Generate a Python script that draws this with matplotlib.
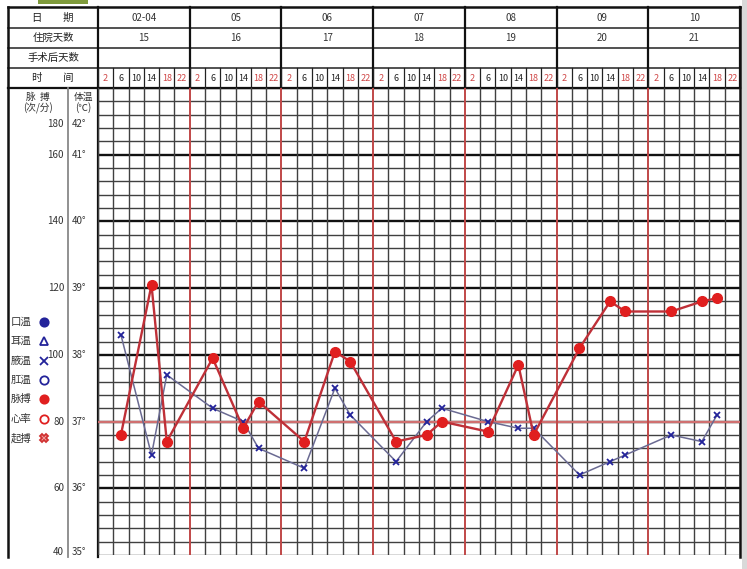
import matplotlib
matplotlib.use("Agg")
import matplotlib.pyplot as plt
from matplotlib.patches import Rectangle

plt.rcParams["font.family"] = ["Noto Sans CJK SC", "DejaVu Sans"]

# ---- data -------------------------------------------------------------
dates = ["02-04", "05", "06", "07", "08", "09", "10"]
hosp_days = [15, 16, 17, 18, 19, 20, 21]
times = [2, 6, 10, 14, 18, 22]

obs_day = [0, 0, 0, 1, 1, 1, 2, 2, 2, 3, 3, 3, 4, 4, 4, 5, 5, 5, 6, 6, 6]
obs_hour = [6, 14, 18] * 7
temp_axillary = [38.3, 36.5, 37.7, 37.2, 37.0, 36.6, 36.3, 37.5, 37.1,
                 36.4, 37.0, 37.2, 37.0, 36.9, 36.9, 36.2, 36.4, 36.5,
                 36.8, 36.7, 37.1]
pulse = [76, 121, 74, 99, 78, 86, 74, 101, 98, 74, 76, 80,
         77, 97, 76, 102, 116, 113, 113, 116, 117]

temp_ticks = [42, 41, 40, 39, 38, 37, 36, 35]
pulse_ticks = [180, 160, 140, 120, 100, 80, 60, 40]

legend_names = ["口温", "耳温", "腋温", "肛温", "脉搏", "心率", "起搏"]

# ---- layout (pixels) --------------------------------------------------
W, H = 747, 569
X0, X1 = 98, 740          # chart left / right
Y_TOP, Y_BOT = 88, 555    # 42 C / 35 C
LEFT = 8
header_rows = [7, 28, 48, 68, 88]
BLUE = "#23239a"
RED = "#e01f1f"
RED_LINE = "#bf3038"
GRID = "#404040"

fig = plt.figure(figsize=(W / 100, H / 100), dpi=100)

bg = fig.add_axes([0, 0, 1, 1])
bg.set_xlim(0, W)
bg.set_ylim(H, 0)
bg.axis("off")

ax = fig.add_axes([X0 / W, 1 - Y_BOT / H, (X1 - X0) / W, (Y_BOT - Y_TOP) / H])
ax.set_xlim(0, len(dates) * len(times))
ax.set_ylim(35, 42)
ax.axis("off")
ax2 = ax.twinx()
ax2.set_ylim(40, 180)
ax2.axis("off")

# chart grid
for i in range(36):
    v = 35 + i * 0.2
    if abs(v - round(v)) < 1e-6 and v > 35.5:
        ax.axhline(v, color="#111111", lw=1.7, zorder=1)
    else:
        ax.axhline(v, color=GRID, lw=1.0, zorder=1)
ax.axhline(37, color="#d07070", lw=1.6, zorder=2)
n_slots = len(dates) * len(times)
for s in range(n_slots + 1):
    if s % len(times) == 0 and 0 < s < n_slots:
        ax.axvline(s, color="#c04848", lw=1.4, zorder=2)
    else:
        ax.axvline(s, color=GRID, lw=1.0, zorder=1)

# header table
slot_w = (X1 - X0) / n_slots
for y in header_rows[1:-1]:
    bg.plot([LEFT, X1], [y, y], color="#222222", lw=1.1)
bg.plot([LEFT, X1], [Y_TOP, Y_TOP], color="#111111", lw=1.6)
for d in range(len(dates) + 1):
    x = X0 + d * len(times) * slot_w
    bg.plot([x, x], [header_rows[0], Y_TOP], color="#111111", lw=1.6)
for s in range(n_slots):
    x = X0 + s * slot_w
    bg.plot([x, x], [header_rows[3], Y_TOP], color="#222222", lw=0.9)
# outer frame: top, left, right (the bottom is cut off in the scan)
bg.plot([LEFT, X1], [header_rows[0], header_rows[0]], color="#111111", lw=1.8)
bg.plot([LEFT, LEFT], [header_rows[0], Y_BOT + 2], color="#111111", lw=1.8)
bg.plot([X1, X1], [header_rows[0], Y_BOT + 2], color="#111111", lw=1.8)
bg.plot([X0, X0], [Y_TOP, Y_BOT + 2], color="#111111", lw=1.6)
bg.plot([68, 68], [Y_TOP, Y_BOT + 2], color="#888888", lw=1.3)

label_x = (LEFT + X0) / 2
row_mid = [(a + b) / 2 for a, b in zip(header_rows[:-1], header_rows[1:])]
for txt, y in zip(["日　　期", "住院天数", "手术后天数", "时　　间"], row_mid):
    bg.text(label_x, y, txt, ha="center", va="center", fontsize=7.5, color="#222222")

day_w = len(times) * slot_w
for d, (dt, hd) in enumerate(zip(dates, hosp_days)):
    cx = X0 + (d + 0.5) * day_w
    bg.text(cx, row_mid[0], dt, ha="center", va="center", fontsize=7, color="#333333")
    bg.text(cx, row_mid[1], str(hd), ha="center", va="center", fontsize=7, color="#333333")
    for j, t in enumerate(times):
        c = "#d04848" if t in (2, 18, 22) else "#222222"
        bg.text(X0 + d * day_w + (j + 0.5) * slot_w, row_mid[3], str(t),
                ha="center", va="center", fontsize=6.5, color=c)

# axis captions
bg.text(38, 97, "脉  搏", ha="center", va="center", fontsize=7, color="#333333")
bg.text(38, 108, "(次/分)", ha="center", va="center", fontsize=7, color="#333333")
bg.text(83, 97, "体温", ha="center", va="center", fontsize=7, color="#333333")
bg.text(83, 108, "(℃)", ha="center", va="center", fontsize=7, color="#333333")


def temp_px(t):
    return Y_TOP + (42 - t) * (Y_BOT - Y_TOP) / 7


for t, p in zip(temp_ticks, pulse_ticks):
    y = temp_px(t)
    if t == 42:
        y += 36
    elif t == 35:
        y -= 3
    bg.text(64, y, str(p), ha="right", va="center", fontsize=7, color="#333333")
    bg.text(72, y, f"{t}°", ha="left", va="center", fontsize=7, color="#333333")

# legend column
leg_y = [322, 341, 361, 380, 399, 419, 438]
leg_style = [
    dict(marker="o", color=BLUE, mfc=BLUE),
    dict(marker="^", color=BLUE, mfc="none"),
    dict(marker="x", color=BLUE, mfc=BLUE),
    dict(marker="o", color=BLUE, mfc="none"),
    dict(marker="o", color=RED, mfc=RED),
    dict(marker="o", color=RED, mfc="none"),
    dict(marker="X", color="#d03030", mfc="#f0a0a0"),
]
for name, y, st in zip(legend_names, leg_y, leg_style):
    bg.text(11, y, name, ha="left", va="center", fontsize=7.5, color="#333333")
    bg.plot([44], [y], ls="none", markersize=6, mew=1.3, **st)

# data
xs = [d * len(times) + times.index(h) + 0.5 for d, h in zip(obs_day, obs_hour)]
ax.plot(xs, temp_axillary, color="#6a6a92", lw=1.1, zorder=4)
ax.plot(xs, temp_axillary, ls="none", marker="x", color=BLUE, markersize=5,
        mew=1.3, zorder=5)
ax2.plot(xs, pulse, color=RED_LINE, lw=1.7, marker="o", markersize=7,
         mfc=RED, mec=RED, zorder=6)

# screenshot artefacts
bg.add_patch(Rectangle((38, 0), 50, 4, color="#7f9b3c", lw=0))
bg.add_patch(Rectangle((742, 0), 5, H, color="#d9d9d9", lw=0))

fig.savefig("out.png", dpi=100)
